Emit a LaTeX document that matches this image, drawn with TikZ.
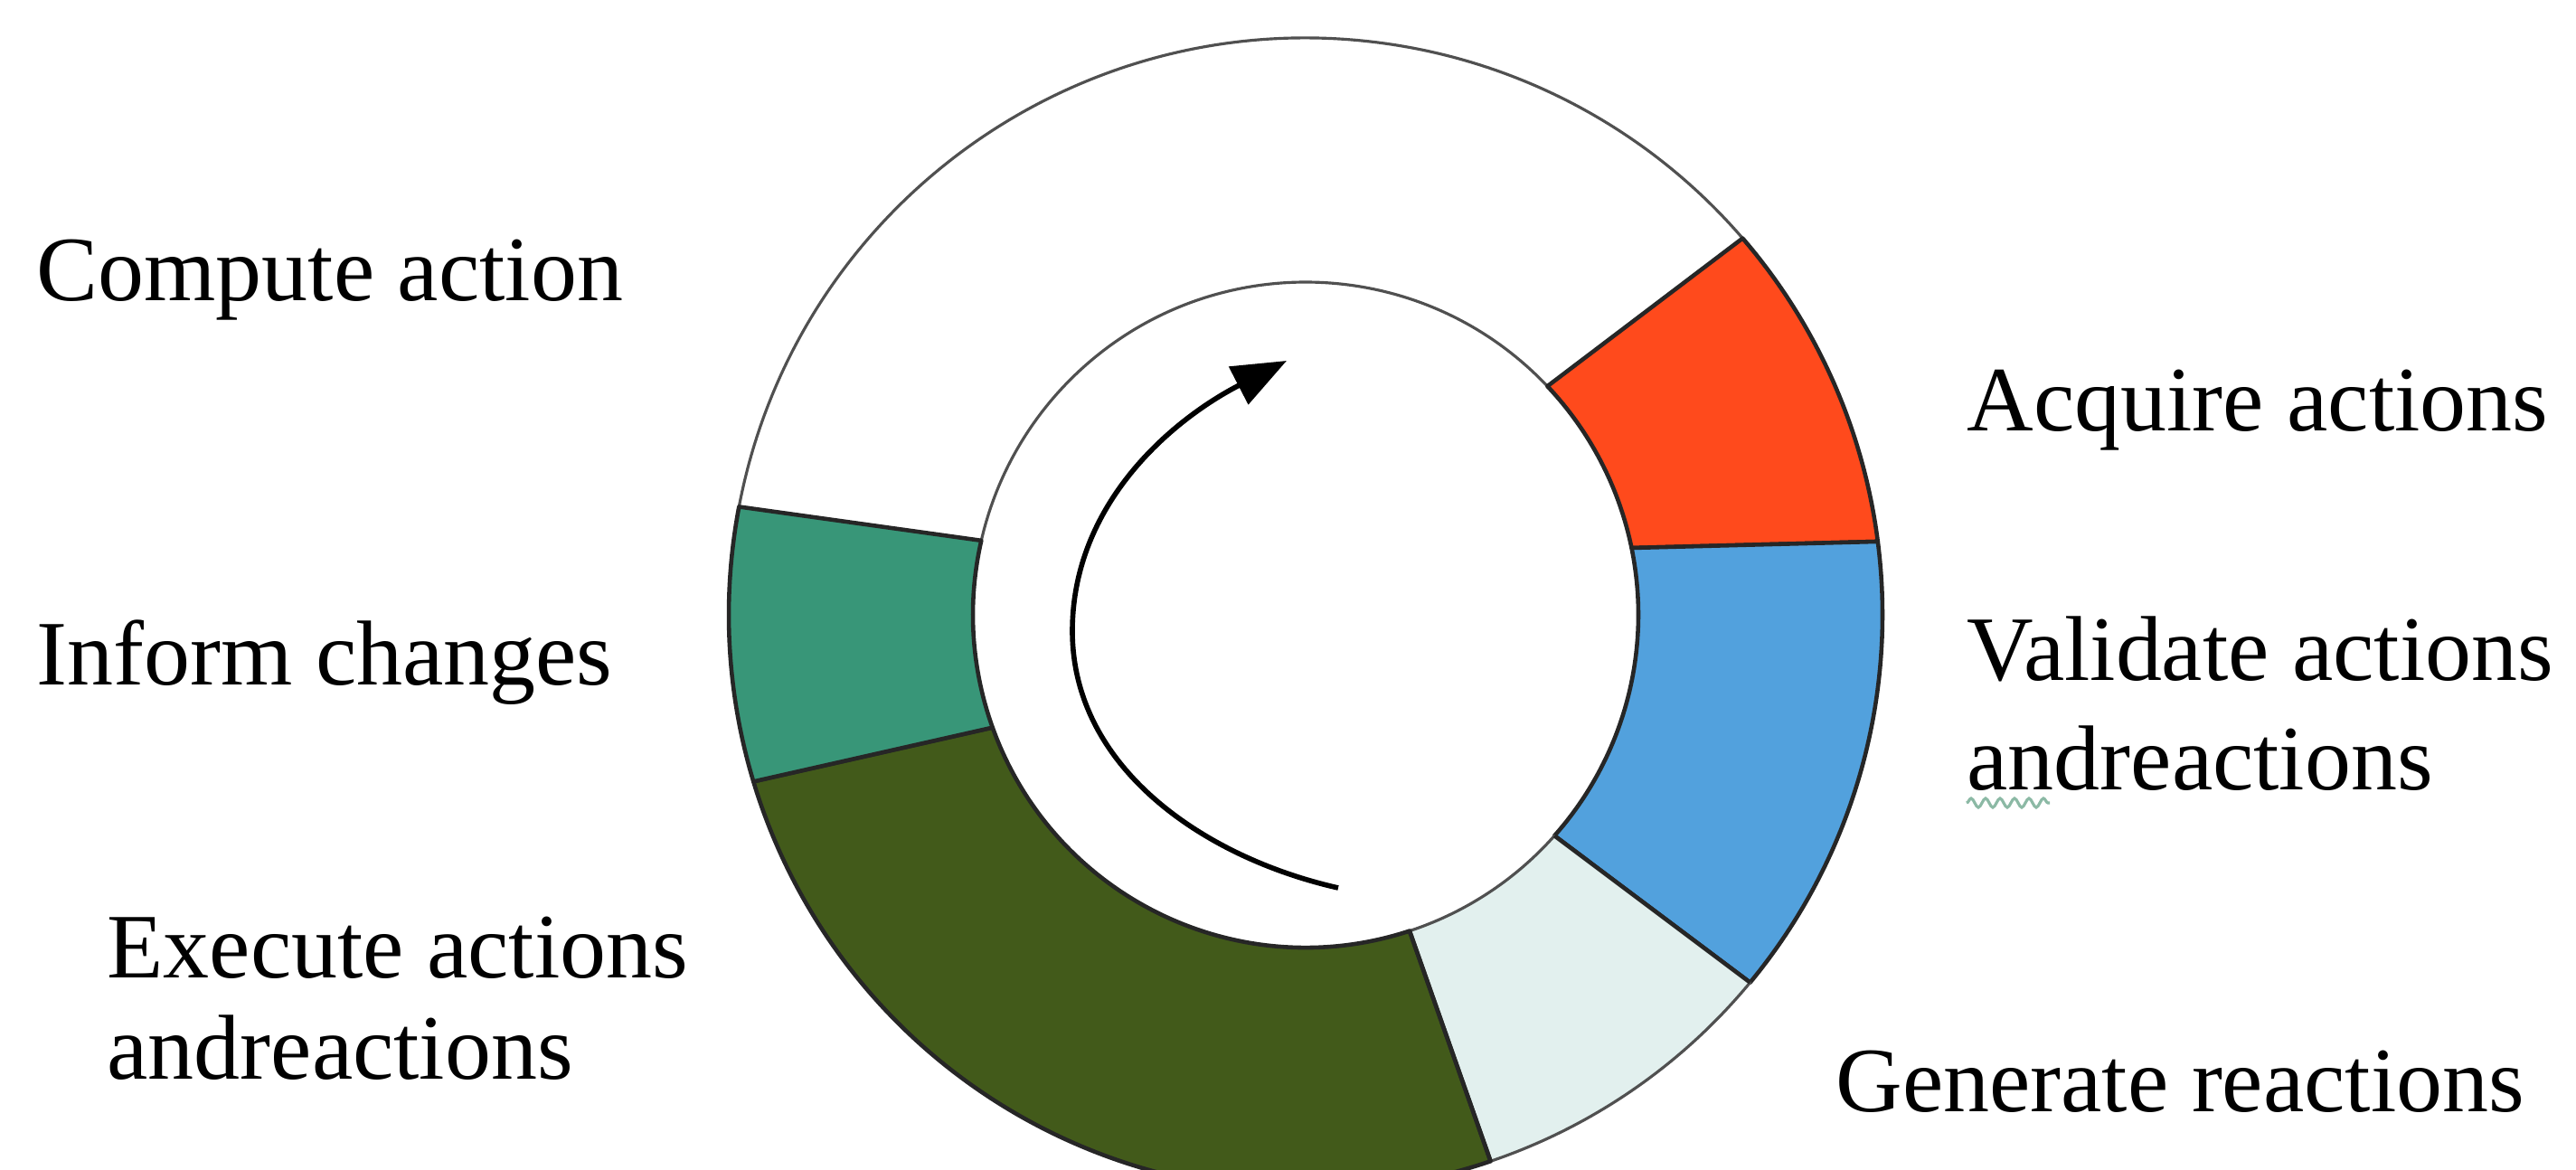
\documentclass[tikz,border=0pt]{standalone}
\usepackage{fontspec}
\setmainfont{Liberation Serif}
\usetikzlibrary{arrows.meta,decorations.pathmorphing}
\definecolor{segred}{RGB}{255,74,28}
\definecolor{segblue}{RGB}{82,161,221}
\definecolor{segpale}{RGB}{226,240,238}
\definecolor{segolive}{RGB}{66,90,26}
\definecolor{segteal}{RGB}{56,150,120}
\definecolor{ringline}{RGB}{80,80,80}
\definecolor{squig}{RGB}{140,185,165}
\tikzset{
  lbl/.style={anchor=base west, inner sep=0pt, font=\fontsize{29}{32}\selectfont},
  seg/.style={draw=black!85, line width=1.3pt, line join=round},
  plainseg/.style={draw=ringline, line width=0.9pt, line join=round},
  cyclearrow/.style={line width=1.6pt, -{Triangle[length=0.6cm,width=0.46cm]}},
}
\begin{document}
\begin{tikzpicture}[x=1cm,y=1cm]
\useasboundingbox (0,0) rectangle (28.49,12.93);
\clip (0,0) rectangle (28.49,12.93);
\begin{scope}[shift={(14.44,6.13)}]
  % Compute action (white)
  \path[plainseg, fill=white] (169.2:6.38) arc[start angle=169.2, end angle=40.75, radius=6.38]
     -- (43.4:3.68) arc[start angle=43.4, end angle=167.1, radius=3.68] -- cycle;
  % Acquire actions (red)
  \path[seg, fill=segred] (40.75:6.38) arc[start angle=40.75, end angle=7.3, radius=6.38]
     -- (11.6:3.68) arc[start angle=11.6, end angle=43.4, radius=3.68] -- cycle;
  % Validate actions and reactions (blue)
  \path[seg, fill=segblue] (7.3:6.38) arc[start angle=7.3, end angle=-39.6, radius=6.38]
     -- (-41.6:3.68) arc[start angle=-41.6, end angle=11.6, radius=3.68] -- cycle;
  % Generate reactions (pale)
  \path[plainseg, fill=segpale] (-39.6:6.38) arc[start angle=-39.6, end angle=-71.3, radius=6.38]
     -- (-71.8:3.68) arc[start angle=-71.8, end angle=-41.6, radius=3.68] -- cycle;
  % Execute actions and reactions (olive)
  \path[seg, fill=segolive] (-71.3:6.38) arc[start angle=-71.3, end angle=-163.2, radius=6.38]
     -- (-160.2:3.68) arc[start angle=-160.2, end angle=-71.8, radius=3.68] -- cycle;
  % Inform changes (teal)
  \path[seg, fill=segteal] (-163.2:6.38) arc[start angle=-163.2, end angle=-190.8, radius=6.38]
     -- (-192.9:3.68) arc[start angle=-192.9, end angle=-160.2, radius=3.68] -- cycle;
  % boundaries shared with pale segment drawn dark
  \draw[seg] (-39.6:6.38) -- (-41.6:3.68);
  \draw[seg] (-71.3:6.38) -- (-71.8:3.68);
\end{scope}
% cycle arrow
\coordinate (arrstart) at (14.80,3.11);
\coordinate (arrleft) at (11.86,5.95);
\coordinate (arrend) at (14.23,8.94);
\draw[cyclearrow] (arrstart) .. controls (13.3,3.45) and (11.86,4.45) .. (arrleft)
   .. controls (11.86,7.35) and (12.95,8.28) .. (arrend);
% labels
\node[lbl] (cmp) at (0.40,9.60) {Compute action};
\node[lbl] (acq) at (21.75,8.16) {Acquire actions};
\node[lbl] (val1) at (21.75,5.40) {Validate actions};
\node[lbl] (val2) at (21.75,4.19) {andreactions};
\node[lbl] (inf) at (0.40,5.35) {Inform changes};
\node[lbl] (exe1) at (1.18,2.12) {Execute actions};
\node[lbl] (exe2) at (1.18,1.00) {andreactions};
\node[lbl] (gen) at (20.30,0.64) {Generate reactions};
\draw[squig, line width=0.9pt, decorate, decoration={snake, amplitude=0.05cm, segment length=0.16cm}]
  ([yshift=-0.14cm]val2.base west) -- ++(0.92,0);
\end{tikzpicture}
\end{document}
